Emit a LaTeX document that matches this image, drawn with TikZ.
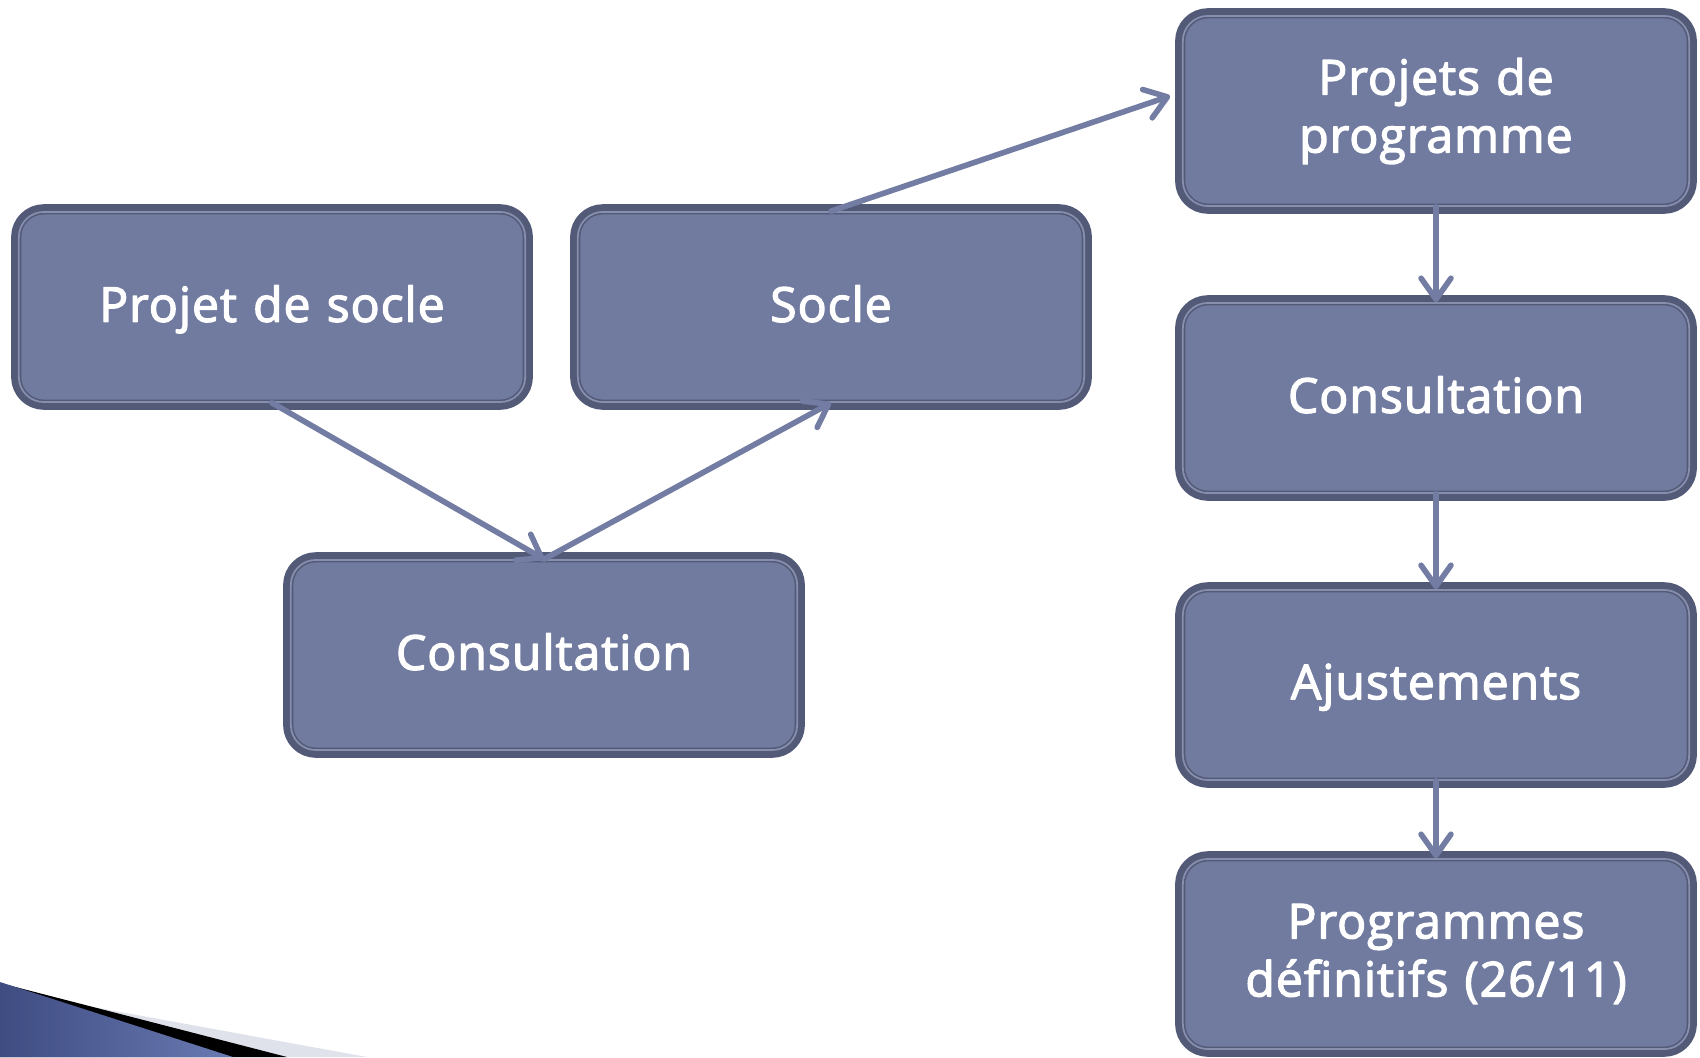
\documentclass[tikz,border=0pt]{standalone}
\usepackage{fontspec}
\setmainfont{Open Sans}
\newfontfamily\etapefont{Open Sans}[FakeBold=2.6,LetterSpace=2]
\usetikzlibrary{arrows.meta}

\definecolor{boxfill}{HTML}{717BA0}
\definecolor{boxedge}{HTML}{535A78}
\definecolor{arrowcol}{HTML}{737DA3}
\definecolor{swooshgray}{HTML}{DFE2EA}
\definecolor{swooshleft}{HTML}{3E4C82}
\definecolor{swooshright}{HTML}{6A7AB2}

\begin{document}
\begin{tikzpicture}[x=0.01cm,y=-0.01cm,line cap=round,line join=round,
    >={Straight Barb[length=6pt,width=8.5pt,round]},
    etape/.style={rectangle,rounded corners=0.25cm,fill=boxfill,
      preaction={draw=boxedge,line width=4.4pt},
      draw=boxedge,double=boxfill!85!white,line width=0.45pt,double distance=0.5pt,
      minimum width=5.06cm,minimum height=1.9cm,text width=4.8cm,align=center,
      text=white,font=\etapefont\fontsize{13.7}{16.5}\selectfont},
    uneligne/.style={text depth=0.2em},
    fleche/.style={->,draw=arrowcol,line width=1.6pt}]
      \useasboundingbox (0,0) rectangle (1700,1057);

      % Add swoosh
      \fill[swooshgray] (0,990) -- (367,1057) -- (0,1057) -- cycle;
      \fill[black] (0,983) -- (287,1057) -- (0,1057) -- cycle;
      \shade[left color=swooshleft,right color=swooshright] (0,982) -- (233,1057) -- (0,1057) -- cycle;

      % Add Nodes
      \node[etape,uneligne] (projsocle) at (272,307) {Projet de socle};
      \node[etape,uneligne] (socle) at (831,307) {Socle};
      \node[etape,uneligne] (consult) at (544,655) {Consultation};
      \node[etape] (projprog) at (1436,111) {Projets de\\programme};
      \node[etape,uneligne] (consultb) at (1436,398) {Consultation};
      \node[etape,uneligne] (ajust) at (1436,685) {Ajustements};
      \node[etape] (progdef) at (1436,954) {Programmes\\définitifs (26/11)};

      % Add Arrows
      \draw[fleche] (projsocle.south) -- (consult.north);
      \draw[fleche] (consult.north) -- (socle.south);
      \draw[fleche] (socle.north) -- ([xshift=-0.12cm,yshift=0.15cm]projprog.west);
      \draw[fleche] (projprog.south) -- (consultb.north);
      \draw[fleche] (consultb.south) -- (ajust.north);
      \draw[fleche] (ajust.south) -- (progdef.north);
    \end{tikzpicture}
\end{document}
